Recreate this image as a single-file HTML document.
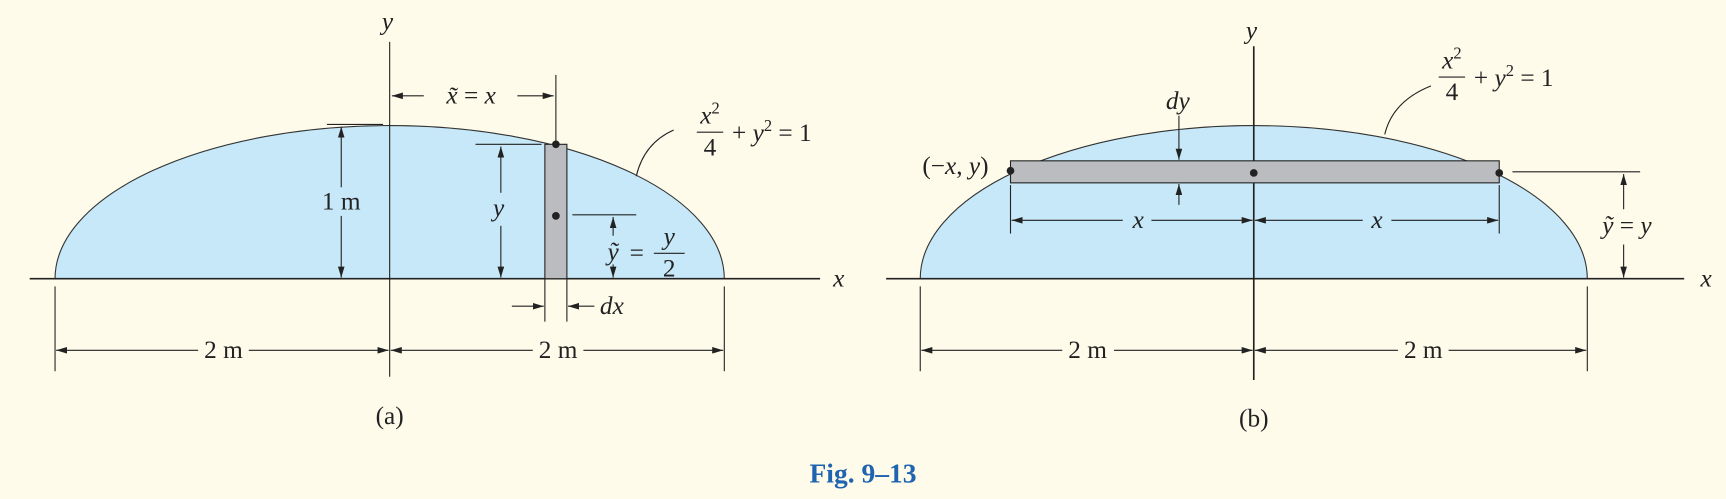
<!DOCTYPE html>
<html><head><meta charset="utf-8"><style>
html,body{margin:0;padding:0;background:#fefbea;}
svg{display:block}
text{font-family:"Liberation Serif",serif;font-size:23px;fill:#222}
.i{font-style:italic}
</style></head><body>
<svg width="1726" height="499" viewBox="0 0 1568 453" preserveAspectRatio="none">
<defs>
<marker id="a" viewBox="0 0 10 6" refX="10" refY="3" markerWidth="10" markerHeight="6" orient="auto" markerUnits="userSpaceOnUse"><path d="M0,0 L10,3 L0,6 z" fill="#222"/></marker>
</defs>
<rect width="1568" height="453" fill="#fefbea"/>
<g stroke="#222" stroke-width="1" fill="none">
<path d="M50,253 A304,139 0 0 1 658,253 Z" fill="#c6e8f8" stroke="#333"/>
<line x1="27" y1="253" x2="745" y2="253" stroke-width="1.5"/>
<line x1="354" y1="38" x2="354" y2="342"/>
<rect x="495" y="131" width="20" height="122" fill="#bbbcc0"/>
<line x1="297" y1="113" x2="348" y2="113"/>
<line x1="310" y1="170" x2="310" y2="115" marker-end="url(#a)"/>
<line x1="310" y1="196" x2="310" y2="252" marker-end="url(#a)"/>
<line x1="505" y1="68" x2="505" y2="129"/>
<line x1="385" y1="87" x2="356" y2="87" marker-end="url(#a)"/>
<line x1="470" y1="87" x2="503" y2="87" marker-end="url(#a)"/>
<line x1="432" y1="131" x2="492" y2="131"/>
<line x1="455" y1="175" x2="455" y2="133" marker-end="url(#a)"/>
<line x1="455" y1="205" x2="455" y2="252" marker-end="url(#a)"/>
<line x1="520" y1="195" x2="578" y2="195"/>
<line x1="557" y1="214" x2="557" y2="197" marker-end="url(#a)"/>
<line x1="557" y1="240" x2="557" y2="252" marker-end="url(#a)"/>
<line x1="495" y1="253" x2="495" y2="292"/>
<line x1="515" y1="253" x2="515" y2="292"/>
<line x1="465" y1="278" x2="494" y2="278" marker-end="url(#a)"/>
<line x1="540" y1="278" x2="516" y2="278" marker-end="url(#a)"/>
<line x1="50" y1="260" x2="50" y2="337"/>
<line x1="658" y1="260" x2="658" y2="337"/>
<line x1="180" y1="318" x2="51" y2="318" marker-end="url(#a)"/>
<line x1="226" y1="318" x2="353" y2="318" marker-end="url(#a)"/>
<line x1="484" y1="318" x2="355" y2="318" marker-end="url(#a)"/>
<line x1="530" y1="318" x2="657" y2="318" marker-end="url(#a)"/>
<path d="M578,160 Q585,130 612,118"/>
<path d="M836,253 A303,139 0 0 1 1442,253 Z" fill="#c6e8f8" stroke="#333"/>
<line x1="805" y1="253" x2="1530" y2="253" stroke-width="1.5"/>
<line x1="1139" y1="42" x2="1139" y2="345" stroke-width="1.5"/>
<rect x="918" y="146" width="444" height="20" fill="#bbbcc0"/>
<line x1="1071" y1="105" x2="1071" y2="145" marker-end="url(#a)"/>
<line x1="1071" y1="186" x2="1071" y2="167" marker-end="url(#a)"/>
<line x1="918" y1="168" x2="918" y2="212"/>
<line x1="1362" y1="168" x2="1362" y2="212"/>
<line x1="1020" y1="200" x2="919" y2="200" marker-end="url(#a)"/>
<line x1="1046" y1="200" x2="1138" y2="200" marker-end="url(#a)"/>
<line x1="1238" y1="200" x2="1140" y2="200" marker-end="url(#a)"/>
<line x1="1264" y1="200" x2="1361" y2="200" marker-end="url(#a)"/>
<line x1="1374" y1="156" x2="1490" y2="156"/>
<line x1="1475" y1="190" x2="1475" y2="158" marker-end="url(#a)"/>
<line x1="1475" y1="222" x2="1475" y2="252" marker-end="url(#a)"/>
<line x1="836" y1="260" x2="836" y2="337"/>
<line x1="1442" y1="260" x2="1442" y2="337"/>
<line x1="965" y1="318" x2="837" y2="318" marker-end="url(#a)"/>
<line x1="1012" y1="318" x2="1138" y2="318" marker-end="url(#a)"/>
<line x1="1270" y1="318" x2="1140" y2="318" marker-end="url(#a)"/>
<line x1="1316" y1="318" x2="1441" y2="318" marker-end="url(#a)"/>
<path d="M1258,122 Q1265,92 1300,78"/>
<line x1="633" y1="120" x2="657" y2="120"/>
<line x1="594" y1="230" x2="622" y2="230"/>
<line x1="1307" y1="70" x2="1331" y2="70"/>
</g>
<g fill="#222">
<circle cx="505" cy="131" r="3.5"/><circle cx="505" cy="196" r="3.5"/>
<circle cx="918" cy="155" r="3.5"/><circle cx="1139" cy="157" r="3.5"/><circle cx="1362" cy="157" r="3.5"/>
</g>
<text x="352" y="27" class="i" text-anchor="middle">y</text>
<text x="762" y="260" class="i" text-anchor="middle">x</text>
<text x="310" y="190" text-anchor="middle">1 m</text>
<text x="428" y="94" text-anchor="middle"><tspan class="i">x̃</tspan> = <tspan class="i">x</tspan></text>
<text x="453" y="196" class="i" text-anchor="middle">y</text>
<text x="557" y="236" class="i" text-anchor="middle">ỹ</text><text x="572" y="237">=</text>
<text x="608" y="222" class="i" text-anchor="middle">y</text><text x="608" y="251" text-anchor="middle">2</text>
<text x="545" y="285" class="i">dx</text>
<text x="203" y="325" text-anchor="middle">2 m</text>
<text x="507" y="325" text-anchor="middle">2 m</text>
<text x="645" y="112" class="i" text-anchor="middle">x<tspan font-size="15" dy="-9" font-style="normal">2</tspan></text>
<text x="645" y="141" text-anchor="middle">4</text>
<text x="665" y="128">+ <tspan class="i">y</tspan><tspan font-size="15" dy="-9">2</tspan><tspan dy="9"> = 1</tspan></text>
<text x="354" y="385" text-anchor="middle">(a)</text>
<text x="1137" y="35" class="i" text-anchor="middle">y</text>
<text x="1550" y="260" class="i" text-anchor="middle">x</text>
<text x="1070" y="99" class="i" text-anchor="middle">dy</text>
<text x="868" y="158" text-anchor="middle">(−<tspan class="i">x</tspan>, <tspan class="i">y</tspan>)</text>
<text x="1034" y="207" class="i" text-anchor="middle">x</text>
<text x="1251" y="207" class="i" text-anchor="middle">x</text>
<text x="1478" y="212" text-anchor="middle"><tspan class="i">ỹ</tspan> = <tspan class="i">y</tspan></text>
<text x="988" y="325" text-anchor="middle">2 m</text>
<text x="1293" y="325" text-anchor="middle">2 m</text>
<text x="1319" y="62" class="i" text-anchor="middle">x<tspan font-size="15" dy="-9" font-style="normal">2</tspan></text>
<text x="1319" y="91" text-anchor="middle">4</text>
<text x="1339" y="78">+ <tspan class="i">y</tspan><tspan font-size="15" dy="-9">2</tspan><tspan dy="9"> = 1</tspan></text>
<text x="1139" y="387" text-anchor="middle">(b)</text>
<text x="784" y="438" text-anchor="middle" style="font-weight:bold;fill:#1e64b0;font-size:25px">Fig. 9–13</text>
</svg>
</body></html>
